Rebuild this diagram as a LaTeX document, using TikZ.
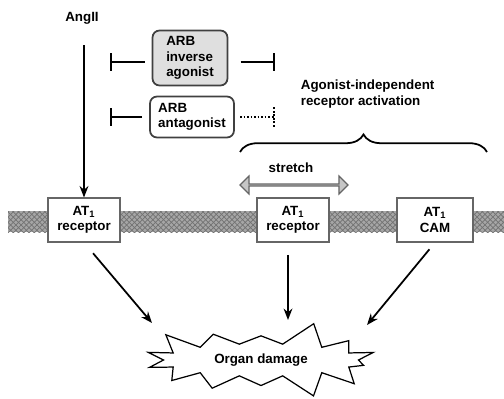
\documentclass[tikz,border=0pt]{standalone}
\usepackage{fontspec}
\setmainfont{Liberation Sans}
\usetikzlibrary{
arrows.meta,
patterns,
shapes.arrows,
shapes.symbols,
decorations.pathreplacing,
}
\tikzset{every picture/.style={line width=1pt}}
\tikzset{txt/.style = {font=\bfseries\fontsize{7.6}{8.8}\selectfont, align=left, inner sep=0pt}}
\tikzset{arb/.style = {txt, draw=black!75, rounded corners=4pt, inner sep=3pt}}
\tikzset{recbox/.style = {txt, align=center, draw=black!60, line width=0.6pt, fill=white, minimum width=1.44cm, minimum height=0.88cm}}
\tikzset{edge/.style = {-{Stealth[length=6.5pt,width=5pt]}}}
\tikzset{block/.style = {-{Bar[width=10pt]}}}

\begin{document}
\begin{tikzpicture}[x=0.02cm,y=-0.02cm]
\useasboundingbox (0,0) rectangle (504,399);
% membrane
\fill[gray!70] (8,211) rectangle (504,232);
\fill[pattern=crosshatch, pattern color=black!55] (8,211) rectangle (504,232);
%
\node[txt] (angii) at (82,18) {AngII};
\node[arb, fill=gray!25, minimum width=1.5cm, minimum height=1.1cm] (inv) at (190,58) {ARB\\inverse\\agonist};
\node[arb, minimum width=1.68cm, minimum height=0.82cm] (ant) at (192,117) {ARB\\antagonist};
\node[txt, anchor=west] (aia) at (300,94) {Agonist-independent\\receptor activation};
%
\coordinate (invL) at (110,62);
\coordinate (invR) at (275,62);
\coordinate (antL) at (110,117);
\coordinate (antR) at (274,117);
\draw[block, shorten <=4pt] (inv.west |- invL) -- (invL);
\draw[block, shorten <=7pt] (inv.east |- invR) -- (invR);
\draw[block, shorten <=4pt] (ant.west |- antL) -- (antL);
\draw[densely dotted, shorten <=3pt] (ant.east |- antR) -- (antR);
\draw[densely dotted] ([yshift=-5.5pt]antR) -- ([yshift=5.5pt]antR);
%
\node[recbox] (rec1) at (84,220) {AT\textsubscript{1}\\receptor};
\node[recbox] (rec2) at (293,220) {AT\textsubscript{1}\\receptor};
\node[recbox, minimum width=1.52cm] (cam) at (435,220) {AT\textsubscript{1}\\CAM};
\coordinate (angtop) at (84,45);
\draw[edge, line width=1.2pt] (angtop) -- (rec1);
%
\draw[decorate, decoration={brace, amplitude=10pt}] (240,152) -- (487,152);
\node[txt] (str) at (291,168) {stretch};
\node[double arrow, draw=black!60, fill=gray!45, line width=0.7pt, minimum height=2.16cm, minimum width=0.36cm, double arrow head extend=0.1cm, inner sep=0pt] (dbl) at (294,185) {};
%
\node[starburst, draw, line width=0.7pt, minimum width=4.9cm, minimum height=1.65cm, starburst points=14, starburst point height=0.5cm, random starburst=3, txt] (dmg) at (261,360) {Organ damage};
\coordinate (dmgL) at (152,323);
\coordinate (dmgM) at (288,320);
\coordinate (dmgR) at (367,325);
\draw[edge, shorten <=8pt] (rec1.south) -- (dmgL);
\draw[edge, shorten <=7pt] (rec2.south -| dmgM) -- (dmgM);
\draw[edge, shorten <=5pt] (cam.south) -- (dmgR);
\end{tikzpicture}
\end{document}
